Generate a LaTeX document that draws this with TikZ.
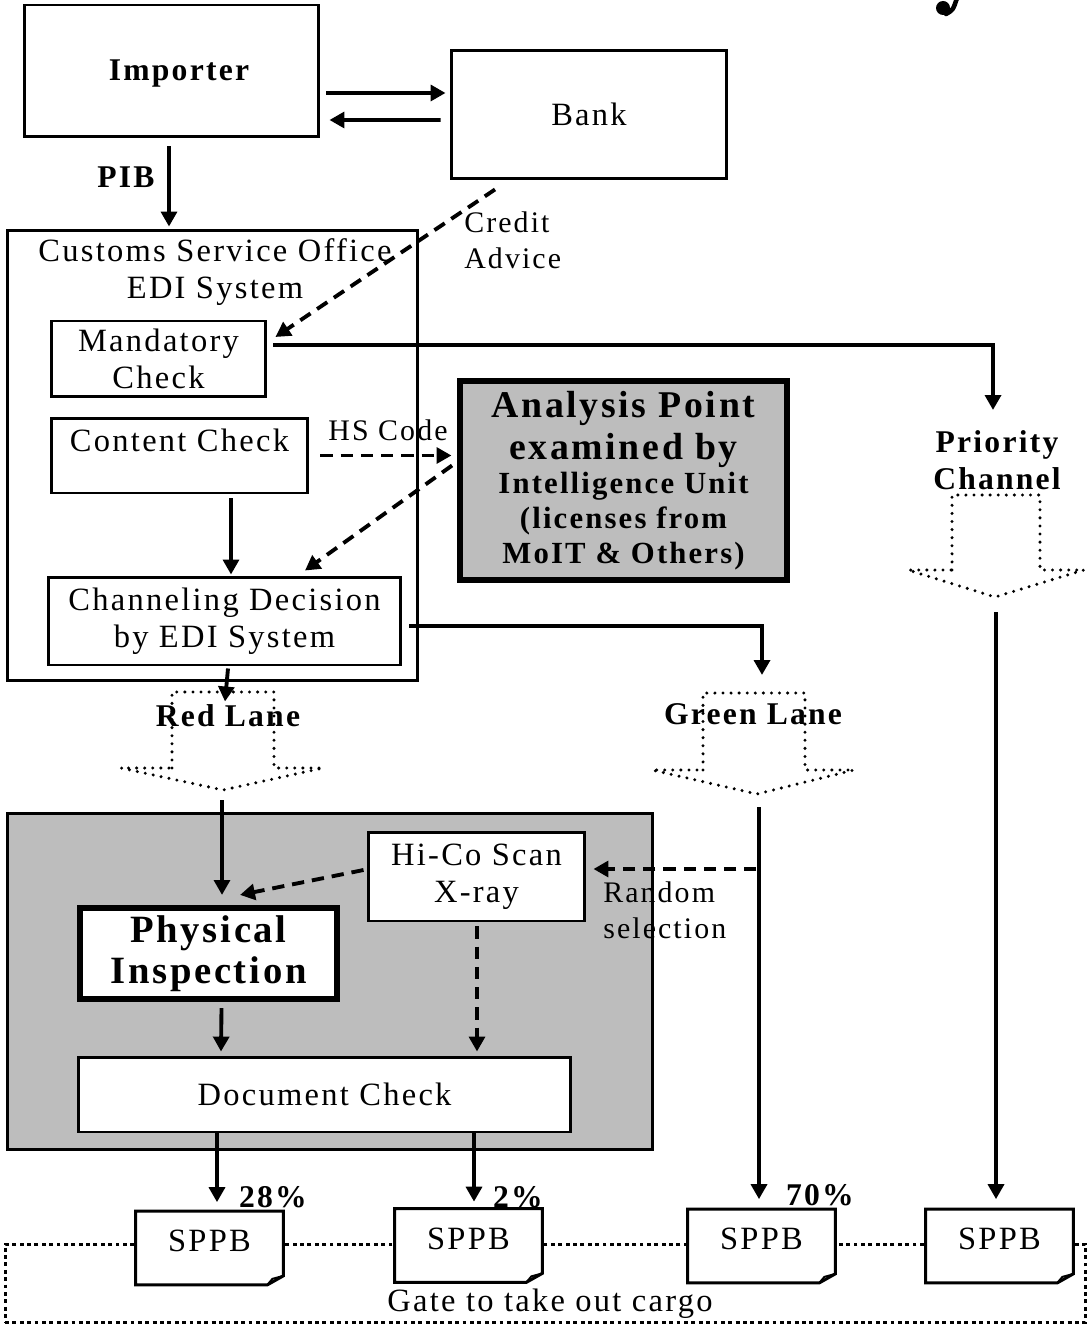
\documentclass[tikz,border=0pt]{standalone}
\usepackage{fontspec}
\setmainfont{Liberation Serif}[LetterSpace=7]
\usetikzlibrary{arrows.meta,calc}

% type sizes
\newcommand\ftr{\fontsize{18.5}{21}\selectfont}
\newcommand\fts{\fontsize{17}{20.4}\selectfont}
\newcommand\ftb{\bfseries\fontsize{18}{21}\selectfont}
\newcommand\ftB{\bfseries\fontsize{22}{23.5}\selectfont}

% document outline with a turned-up corner, drawn round a named node
\newcommand\dogear[1]{%
  \draw[line width=1.7pt, line join=miter]
    (#1.north west) -- (#1.north east) -- ([shift={(0,-9)}]#1.south east)
    -- ([shift={(-16,0)}]#1.south east) -- (#1.south west) -- cycle;
  \draw[line width=1.1pt, line join=miter]
    ([shift={(-16,0)}]#1.south east) -- ([shift={(-11,-6)}]#1.south east)
    -- ([shift={(0,-9)}]#1.south east);}

\begin{document}
\begin{tikzpicture}[x=0.02cm, y=-0.02cm,
  box/.style={draw, line width=1.7pt, fill=white, inner sep=0pt, align=center, font=\ftr},
  shade/.style={fill=black!26},
  arr/.style={line width=2.2pt, -{Triangle[length=8.5pt,width=9pt]}},
  dsh/.style={arr, dash pattern=on 7pt off 4.5pt},
  hollow/.style={line width=1.9pt, dash pattern=on 0pt off 4.6pt, line cap=round, line join=round},
  gate/.style={draw, line width=1.7pt, dash pattern=on 2.2pt off 2pt, inner sep=0pt},
  sppb/.style={fill=white, inner sep=0pt, minimum width=2.94cm, minimum height=1.46cm, font=\ftr, text depth=8pt},
  lbl/.style={inner sep=0pt, font=\ftr},
]
\useasboundingbox (0,0) rectangle (1090,1327);

% tail of a letter at the top edge
\fill (943,8) circle[radius=0.14cm];
\draw[line width=2.6pt, line cap=round] (946,14) .. controls (953,10) .. (957,-2);

% ---------------- top: importer, bank, customs office ----------------
\node[box, minimum width=5.9cm, minimum height=2.64cm, font=\ftb] (imp) at (171.5,71) {};
\node[lbl, font=\ftb] (implbl) at (179,74) {Importer};
\node[box, minimum width=5.52cm, minimum height=2.58cm] (bank) at (589,114.5) {Bank};

\node[box, minimum width=8.22cm, minimum height=9.02cm] (cust) at (212.5,455.5) {};
\node[lbl, align=center] (custttl) at (215,272) {Customs Service Office\\EDI System};

\node[box, minimum width=4.3cm, minimum height=1.52cm] (mand) at (158.5,359) {Mandatory\\Check};
\node[box, minimum width=5.14cm, minimum height=1.5cm, text depth=17.6pt] (cont) at (179.5,455.5) {Content Check};
\node[box, minimum width=7.06cm, minimum height=1.76cm] (chan) at (224.5,621) {Channeling Decision\\by EDI System};

\node[box, shade, line width=3.4pt, minimum width=6.54cm, minimum height=3.98cm,
      font=\bfseries\fontsize{17.5}{19.8}\selectfont] (ana) at (623.5,480.5)
  {{\fontsize{21.5}{24}\selectfont Analysis Point}\\[4pt]
   {\fontsize{21.5}{24}\selectfont examined by}\\
   Intelligence Unit\\(licenses from\\MoIT \& Others)};

% ---------------- inspection block ----------------
\node[draw, shade, line width=1.7pt, minimum width=12.92cm, minimum height=6.74cm] (insp) at (330,981.5) {};
\node[box, minimum width=4.34cm, minimum height=1.78cm] (hico) at (476.5,876.5) {Hi-Co Scan\\X-ray};
\node[box, line width=3.5pt, minimum width=5.14cm, minimum height=1.82cm, font=\ftB] (phys) at (208.5,953.5) {Physical\\Inspection};
\node[box, minimum width=9.86cm, minimum height=1.5cm] (doc) at (324.5,1094.5) {Document Check};

% ---------------- gate and release documents ----------------
\node[gate, minimum width=21.62cm, minimum height=1.56cm] (gatebox) at (545.5,1283) {};
\node[lbl] (gatelbl) at (550,1304) {Gate to take out cargo};

\node[sppb] (s1) at (209.5,1248) {SPPB};
\node[sppb] (s2) at (468.5,1245.5) {SPPB};
\node[sppb] (s3) at (761.5,1246) {SPPB};
\node[sppb] (s4) at (999.5,1246) {SPPB};
\dogear{s1}\dogear{s2}\dogear{s3}\dogear{s4}

% ---------------- hollow lane arrows ----------------
\draw[hollow] (172,768) -- (172,692) -- (274,692) -- (274,768) -- (323,768) -- (223,790) -- (121,768) -- cycle;
\draw[hollow] (703,770) -- (703,693) -- (805,693) -- (805,770) -- (854,770) -- (757,794) -- (652,770) -- cycle;
\draw[hollow] (952,570) -- (952,495) -- (1040,495) -- (1040,570) -- (1084,570) -- (995,597) -- (908,570) -- cycle;
\coordinate (rtip) at (223,790);
\coordinate (gstart) at (758,807);
\coordinate (pstart) at (996,612);
\coordinate (ptop) at (993,410);
\coordinate (gtop) at (762,675);

\node[lbl, font=\ftb] (redlbl) at (228,716) {Red Lane};
\node[lbl, font=\ftb] (greenlbl) at (753,714) {Green Lane};
\node[lbl, font=\ftb, align=center] (prio) at (997,460) {Priority\\Channel};

% ---------------- connectors ----------------
\draw[arr] ([shift={(6,22)}]imp.east) -- ([shift={(-4,-21.5)}]bank.west);
\draw[arr] ([shift={(-9,5.5)}]bank.west) -- ([shift={(9,49)}]imp.east);
\draw[arr] ([shift={(-2.5,8)}]imp.south) -- ([shift={(-43.5,-2)}]cust.north);
\node[lbl, font=\ftb] (pib) at (126,177) {PIB};

\draw[dsh] ([shift={(-94,9)}]bank.south) -- ([shift={(8,-22)}]mand.east);
\node[inner sep=0pt, font=\fts, align=left, anchor=west] (credit) at (464,240) {Credit\\Advice};

\draw[arr] ([shift={(6,-14)}]mand.east) -| (ptop);

\draw[dsh] ([shift={(11,0)}]cont.east) -- ([shift={(142,0)}]cont.east);
\node[inner sep=0pt, font=\fts] (hs) at (388,430) {HS Code};

\draw[dsh] ([shift={(-5,-15)}]ana.west) -- ([shift={(80.5,-5)}]chan.north);
\draw[arr] ([shift={(51.5,4)}]cont.south) -- ([shift={(6.5,-1)}]chan.north);

\draw[arr] ([shift={(7,5)}]chan.east) -| (gtop);
\draw[arr] ([shift={(3.5,2)}]chan.south) -- ([shift={(0.5,35)}]chan.south);

\draw[arr] ([shift={(-1,10)}]rtip) -- ([shift={(13.5,-10)}]phys.north);
\draw[dsh] ([shift={(-3,-6.5)}]hico.west) -- ([shift={(31.5,-10)}]phys.north);
\draw[dsh] ([shift={(170,-7.5)}]hico.east) -- ([shift={(7,-7.5)}]hico.east);
\node[inner sep=0pt, font=\fts, align=left, anchor=west] (rsel) at (603,910) {Random\\selection};

\draw[arr] ([shift={(13,6)}]phys.south) -- ([shift={(-103.5,-4)}]doc.north);
\draw[dsh] ([shift={(0.5,4)}]hico.south) -- ([shift={(152.5,-4)}]doc.north);

\coordinate (t1) at ([shift={(7.5,-9)}]s1.north);
\coordinate (t2) at ([shift={(5.5,-7)}]s2.north);
\coordinate (t3) at ([shift={(-2.5,-10)}]s3.north);
\coordinate (t4) at ([shift={(-3.5,-10)}]s4.north);
\draw[arr] (doc.south -| t1) -- (t1);
\draw[arr] (doc.south -| t2) -- (t2);
\draw[arr] (t3 |- gstart) -- (t3);
\draw[arr] (t4 |- pstart) -- (t4);

\node[lbl, font=\ftb] (p28) at (273,1197) {28\%};
\node[lbl, font=\ftb] (p2) at (518,1197) {2\%};
\node[lbl, font=\ftb] (p70) at (820,1195) {70\%};
\end{tikzpicture}
\end{document}
